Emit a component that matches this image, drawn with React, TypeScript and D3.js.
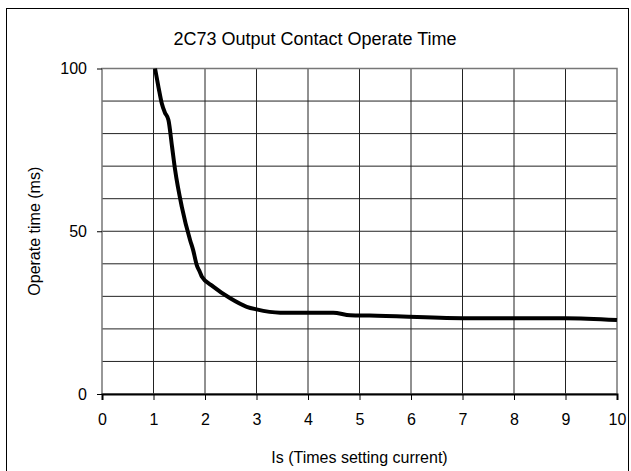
import * as d3 from 'd3';
import { useEffect, useRef } from 'react';

const currentIs = [1.03, 1.1, 1.16, 1.22, 1.29, 1.36, 1.42, 1.55, 1.71, 1.77, 1.84, 1.9, 1.94, 2.16, 2.49, 2.81, 3.0, 3.46, 4.49, 4.82, 5.2, 7.0, 9.0, 10];
const operateMs = [100, 94, 89.3, 86.5, 84.2, 76, 68.8, 57.5, 47.3, 44.2, 39.6, 37.5, 36, 33, 29.4, 26.8, 26, 25, 25, 24.2, 24.1, 23.3, 23.3, 22.7];
const xTicks = [0, 1, 2, 3, 4, 5, 6, 7, 8, 9, 10];
const yTicks = [0, 50, 100];
const yGrid = [10, 20, 30, 40, 50, 60, 70, 80, 90];

const App = () => {
    const ref = useRef<SVGSVGElement>(null);

    useEffect(() => {
        const margin = { top: 68.5, right: 14, bottom: 77, left: 102 };
        const W = 631, H = 471;
        const width = W - margin.left - margin.right;
        const height = H - margin.top - margin.bottom;

        const root = d3.select(ref.current);
        root.selectAll("*").remove();

        const font = "Arial, 'Liberation Sans', sans-serif";

        // outer frame
        root.append("rect")
            .attr("x", 6.5).attr("y", 8.5)
            .attr("width", 622).attr("height", 475)
            .attr("fill", "white").attr("stroke", "black").attr("stroke-width", 1);

        root.append("text")
            .attr("x", 315).attr("y", 45)
            .attr("text-anchor", "middle")
            .style("font-family", font).style("font-size", "18px")
            .text("2C73 Output Contact Operate Time");

        const svg = root.append("g").attr("transform", `translate(${margin.left},${margin.top})`);

        const x = d3.scaleLinear().domain([0, 10]).range([0, width]);
        const y = d3.scaleLinear().domain([0, 100]).range([height, 0]);

        // grid
        svg.append("g").selectAll("line").data(yGrid).join("line")
            .attr("x1", 0).attr("x2", width)
            .attr("y1", d => y(d)).attr("y2", d => y(d))
            .attr("stroke", "#222").attr("stroke-width", 1);
        svg.append("g").selectAll("line").data(xTicks.slice(1, -1)).join("line")
            .attr("y1", 0).attr("y2", height)
            .attr("x1", d => x(d)).attr("x2", d => x(d))
            .attr("stroke", "#222").attr("stroke-width", 1);

        // plot border
        svg.append("rect").attr("width", width).attr("height", height)
            .attr("fill", "none").attr("stroke", "#777").attr("stroke-width", 1.5);

        // axes
        const xAxis = svg.append("g")
            .attr("transform", `translate(0,${height})`)
            .call(d3.axisBottom(x).tickValues(xTicks).tickSize(6).tickPadding(14).tickFormat(d3.format("d")));
        xAxis.select(".domain").attr("stroke", "black").attr("stroke-width", 2);
        xAxis.selectAll("text").style("font-family", font).style("font-size", "16px");

        const yAxis = svg.append("g")
            .call(d3.axisLeft(y).tickValues(yTicks).tickSize(5).tickPadding(10).tickFormat(d3.format("d")));
        yAxis.select(".domain").remove();
        yAxis.selectAll("text").style("font-family", font).style("font-size", "16px");

        // curve
        const pts = currentIs.map((c, i) => [c, operateMs[i]] as [number, number]);
        svg.append("path")
            .datum(pts)
            .attr("fill", "none")
            .attr("stroke", "black")
            .attr("stroke-width", 4)
            .attr("stroke-linejoin", "round")
            .attr("d", d3.line<[number, number]>().x(d => x(d[0])).y(d => y(d[1])).curve(d3.curveMonotoneX));

        // axis titles
        svg.append("text")
            .attr("x", width / 2).attr("y", height + 69)
            .attr("text-anchor", "middle")
            .style("font-family", font).style("font-size", "16px")
            .text("Is (Times setting current)");

        svg.append("text")
            .attr("transform", `translate(${-62},${height / 2}) rotate(-90)`)
            .attr("text-anchor", "middle")
            .style("font-family", font).style("font-size", "16px")
            .text("Operate time (ms)");
    }, []);

    return (
        <svg ref={ref} width={631} height={471} style={{ position: "absolute", left: 0, top: 0 }} />
    );
};

export default App;
